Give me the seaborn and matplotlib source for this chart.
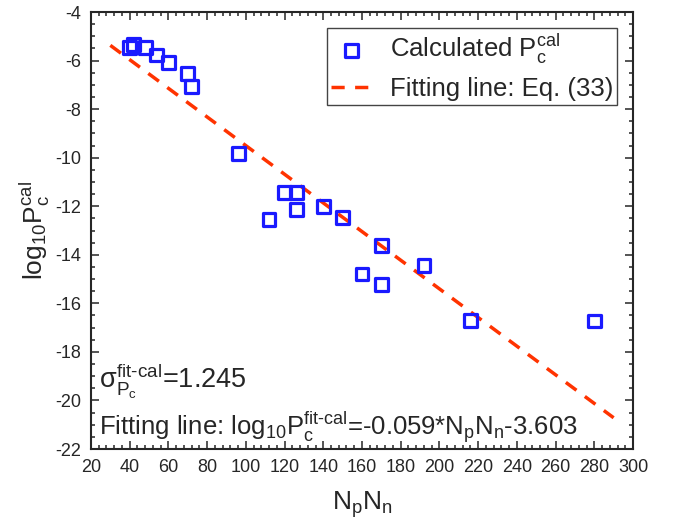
import numpy as np
import pandas as pd
import matplotlib
matplotlib.use("Agg")
import matplotlib.pyplot as plt
from matplotlib.ticker import MultipleLocator, AutoMinorLocator
import seaborn as sns

# NpNn values and calculated log10 Pc
np_nn = [40, 42, 48, 54, 60, 70, 72, 96, 112, 120, 126, 126, 140, 150,
         160, 170, 170, 192, 216, 280]
log_pc = [-5.47, -5.33, -5.47, -5.77, -6.09, -6.53, -7.08, -9.82, -12.53,
          -11.44, -11.44, -12.15, -12.02, -12.46, -14.79, -13.63, -15.24,
          -14.45, -16.71, -16.73]

# fitting line, Eq. (33)
fit_slope = -0.059
fit_intercept = -3.603
fit_x = [30, 290]

df = pd.DataFrame({"NpNn": np_nn, "logPc": log_pc})
fit_df = pd.DataFrame({"NpNn": fit_x,
                       "logPc": [fit_slope * v + fit_intercept for v in fit_x]})

sns.set_style("ticks")
plt.rcParams["font.family"] = ["Liberation Sans", "DejaVu Sans"]
plt.rcParams["mathtext.fontset"] = "custom"
plt.rcParams["mathtext.rm"] = "Liberation Sans"
plt.rcParams["mathtext.it"] = "Liberation Sans"
plt.rcParams["mathtext.bf"] = "Liberation Sans:bold"

fig = plt.figure(figsize=(6.81, 5.27), dpi=100)
ax = fig.add_axes([0.1336, 0.148, 0.7959, 0.8292])

sns.lineplot(data=fit_df, x="NpNn", y="logPc", ax=ax, color="#ff3300",
             linewidth=2.5, dashes=False, label="Fitting line: Eq. (33)")
ax.lines[-1].set_dashes([3.8, 3])
sns.scatterplot(data=df, x="NpNn", y="logPc", ax=ax, marker="s", s=85,
                facecolor="none", edgecolor="#1a1aff", linewidth=2.3,
                label=r"Calculated $\mathregular{P_c^{cal}}$", zorder=3)

ax.set_xlim(20, 300)
ax.set_ylim(-22, -4)
ax.xaxis.set_major_locator(MultipleLocator(20))
ax.xaxis.set_minor_locator(AutoMinorLocator(5))
ax.set_yticks(np.arange(-22, -3, 2))
ax.set_yticklabels([str(v) for v in range(-22, -3, 2)])
ax.yaxis.set_minor_locator(AutoMinorLocator(4))
ax.tick_params(which="both", direction="in", top=True, right=True,
               labelsize=13, width=1.1)
ax.tick_params(which="major", length=5.5, pad=7)
ax.tick_params(which="minor", length=3)
for s in ax.spines.values():
    s.set_linewidth(1.5)
    s.set_visible(True)

ax.set_xlabel(r"$\mathregular{N_pN_n}$", fontsize=19, labelpad=10)
ax.set_ylabel(r"$\mathregular{log_{10}P_c^{cal}}$", fontsize=19, labelpad=2)

handles, labels = ax.get_legend_handles_labels()
leg = ax.legend(handles[::-1], labels[::-1], loc="upper right",
                fontsize=18.5, frameon=True, fancybox=False, framealpha=1,
                edgecolor="#444444", borderaxespad=0.62, handlelength=1.6,
                handletextpad=0.7, borderpad=0.15, labelspacing=0.45)
leg.get_frame().set_linewidth(1.0)

ax.text(0.015, 0.155, r"$\mathregular{\sigma_{P_c}^{fit\text{-}cal}}$=1.245",
        transform=ax.transAxes, fontsize=19.5, va="center")
ax.text(0.015, 0.05,
        r"Fitting line: $\mathregular{log_{10}P_c^{fit\text{-}cal}}$=-0.059*$\mathregular{N_pN_n}$-3.603",
        transform=ax.transAxes, fontsize=18.5, va="center")

fig.savefig("out.png", dpi=100)
